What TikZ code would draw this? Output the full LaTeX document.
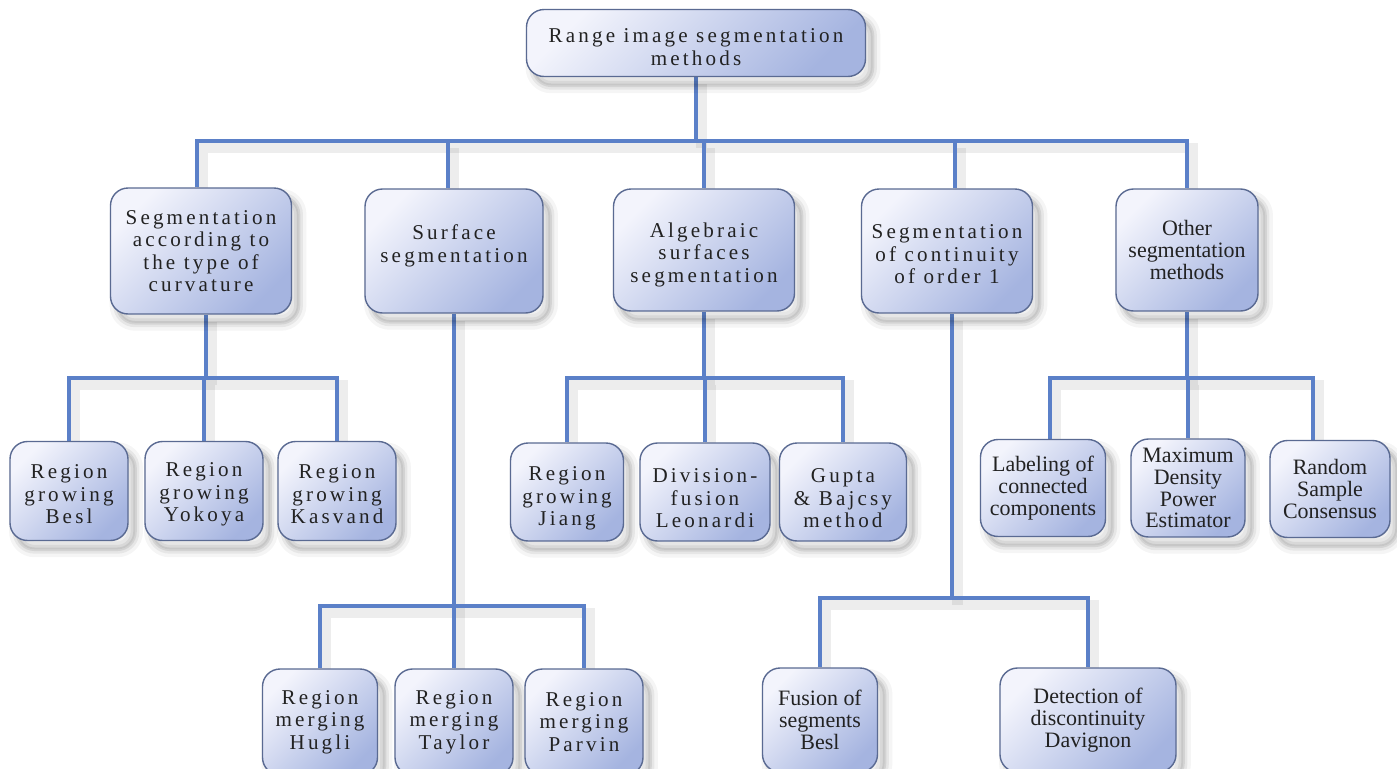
\documentclass[tikz,border=0pt]{standalone}
\usepackage{fontspec}
\setmainfont{Liberation Serif}
\newfontfamily\spc[LetterSpace=15]{Liberation Serif}
\definecolor{lineblue}{HTML}{5B80C8}
\definecolor{boxlight}{HTML}{F3F4FC}
\definecolor{boxdark}{HTML}{A5B4E0}
\definecolor{boxedge}{HTML}{5A6A92}
\definecolor{txt}{HTML}{222222}
\pgfdeclarelayer{paper}
\pgfdeclarelayer{wires}
\pgfsetlayers{paper,wires,main}
\begin{document}
\begin{tikzpicture}[x=0.02cm,y=-0.02cm,
 softshadow/.style={
   preaction={draw=black, fill=black, draw opacity=0.04, fill opacity=0.06, line width=9pt, transform canvas={shift={(4pt,-5pt)}}},
   preaction={draw=black, draw opacity=0.06, line width=5pt, transform canvas={shift={(4pt,-5pt)}}},
   preaction={draw=black, draw opacity=0.08, line width=2pt, transform canvas={shift={(4pt,-5pt)}}}},
 box/.style 2 args={softshadow, draw=boxedge, line width=0.8pt, rounded corners=10pt,
   top color=boxlight, bottom color=boxdark, shading angle=45,
   minimum width=#1*0.02cm, minimum height=#2*0.02cm, inner sep=0pt,
   align=center, text=txt},
 sp/.style={font=\spc\fontsize{12}{12.8}\selectfont},
 pl/.style={font=\fontsize{12.5}{12.4}\selectfont},
 conn/.style={draw=lineblue, line width=2.3pt,
   preaction={draw=black, draw opacity=0.07, line width=6pt, transform canvas={shift={(3pt,-4pt)}}}},
]
\useasboundingbox (0,0) rectangle (1397,768);
\begin{pgfonlayer}{paper}
\fill[white] (0,0) rectangle (1397,768);
\end{pgfonlayer}
\clip (0,0) rectangle (1397,768);

% bus coordinates
\coordinate (t) at (700,141);
\coordinate (k1) at (206,378);
\coordinate (k2) at (455,606);
\coordinate (k3) at (706,378);
\coordinate (k4) at (952,598);
\coordinate (k5) at (1187,378);

% nodes
\node[box={339}{67}, sp] (root) at (696,43) {\\[0pt]Range image segmentation\\methods};
\node[box={181}{126}, sp] (c1) at (201,251) {Segmentation\\according to\\the type of\\curvature};
\node[box={178}{124}, sp] (c2) at (454,251) {\\[-10pt]Surface\\segmentation};
\node[box={181}{122}, sp] (c3) at (704,250) {\\[1pt]Algebraic\\surfaces\\segmentation};
\node[box={171}{124}, sp] (c4) at (947,251) {\\[-1pt]Segmentation\\of continuity\\of order 1};
\node[box={142}{122}, pl] (c5) at (1187,250) {Other\\segmentation\\methods};

\node[box={118}{99}, sp] (g1) at (69,491) {\\[-1pt]Region\\growing\\Besl};
\node[box={118}{99}, sp] (g2) at (204,491) {\\[-1pt]Region\\growing\\Yokoya};
\node[box={118}{99}, sp] (g3) at (337,491) {\\[-1pt]Region\\growing\\Kasvand};

\node[box={115}{106}, sp] (m1) at (320,722) {Region\\merging\\Hugli};
\node[box={118}{106}, sp] (m2) at (454,722) {Region\\merging\\Taylor};
\node[box={118}{106}, sp] (m3) at (584,722) {Region\\merging\\Parvin};

\node[box={113}{98}, sp] (a1) at (567,492) {\\[2.5pt]Region\\growing\\Jiang};
\node[box={130}{98}, sp] (a2) at (705,492) {\\[2.5pt]Division-\\fusion\\Leonardi};
\node[box={127}{98}, sp] (a3) at (843,492) {\\[2.5pt]Gupta\\\& Bajcsy\\method};

\node[box={115}{104}, pl] (f1) at (820,720) {Fusion of\\segments\\Besl};
\node[box={176}{104}, pl] (f2) at (1088,720) {Detection of\\discontinuity\\Davignon};

\node[box={125}{97}, pl] (o1) at (1043,488) {Labeling of\\connected\\components};
\node[box={114}{98}, pl] (o2) at (1188,488) {Maximum\\Density\\Power\\Estimator};
\node[box={120}{97}, pl] (o3) at (1330,489) {Random\\Sample\\Consensus};

\begin{pgfonlayer}{wires}
% level 1
\draw[conn] (root.south) -- (root.south |- t);
\draw[conn] ([xshift=-0.08cm]c1.north) |- (t) -| (c5.north);
\draw[conn] ([xshift=-0.12cm]c2.north) -- ([xshift=-0.12cm]c2.north |- t);
\draw[conn] (c3.north) -- (c3.north |- t);
\draw[conn] ([xshift=0.16cm]c4.north) -- ([xshift=0.16cm]c4.north |- t);

% curvature
\draw[conn] ([xshift=0.1cm]c1.south) -- ([xshift=0.1cm]c1.south |- k1);
\draw[conn] (g1.north) |- (k1) -| (g3.north);
\draw[conn] (g2.north) -- (g2.north |- k1);

% surface
\draw[conn] (c2.south) -- (c2.south |- k2);
\draw[conn] (m1.north) |- (k2) -| (m3.north);
\draw[conn] (m2.north) -- (m2.north |- k2);

% algebraic
\draw[conn] (c3.south) -- (c3.south |- k3);
\draw[conn] (a1.north) |- (k3) -| (a3.north);
\draw[conn] (a2.north) -- (a2.north |- k3);

% continuity
\draw[conn] ([xshift=0.1cm]c4.south) -- ([xshift=0.1cm]c4.south |- k4);
\draw[conn] (f1.north) |- (k4) -| (f2.north);

% other
\draw[conn] (c5.south) -- (c5.south |- k5);
\draw[conn] ([xshift=0.14cm]o1.north) |- (k5) -| ([xshift=-0.34cm]o3.north);
\draw[conn] (o2.north) -- (o2.north |- k5);
\end{pgfonlayer}
\end{tikzpicture}
\end{document}
